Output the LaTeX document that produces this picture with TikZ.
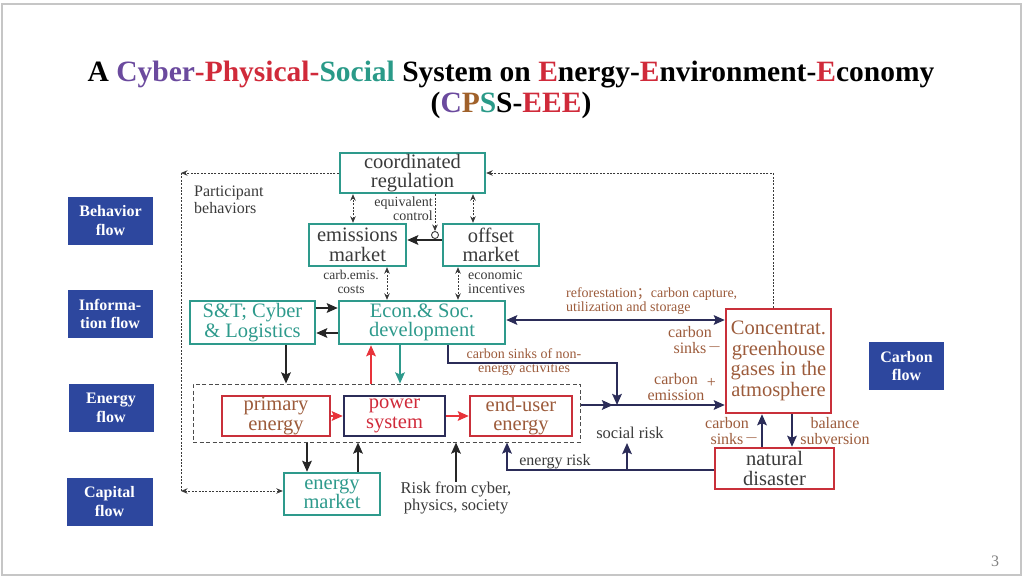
\documentclass[tikz,border=0pt]{standalone}
\usepackage{fontspec}
\setmainfont{Liberation Serif}
\newfontfamily\cjk{Noto Sans CJK SC}
\usetikzlibrary{arrows.meta,calc}
\definecolor{teal1}{HTML}{2E9A8C}
\definecolor{redb}{HTML}{C9303A}
\definecolor{navy1}{HTML}{2B2C58}
\definecolor{brown1}{HTML}{9C5B3B}
\definecolor{dgray}{HTML}{3A3A3A}
\definecolor{lblue}{HTML}{2D479E}
\definecolor{purp}{HTML}{6B4A9E}
\definecolor{tred}{HTML}{D02A3A}
\definecolor{tteal}{HTML}{2A9A88}
\definecolor{tbrown}{HTML}{A0612A}
\definecolor{arred}{HTML}{E8333A}
\begin{document}
\begin{tikzpicture}[x=1pt,y=-1pt,
  >={Stealth[length=11pt,width=9.5pt,inset=2pt]},
  box/.style={draw, line width=2.4pt, rectangle, inner sep=0pt, align=center, font=\fontsize{20.5}{19.5}\selectfont},
  tealbox/.style={box, draw=teal1},
  redbox/.style={box, draw=redb},
  navybox/.style={box, draw=navy1},
  legend/.style={fill=lblue, text=white, inner sep=0pt, align=center, font=\fontsize{16}{18.5}\selectfont\bfseries},
  lbl/.style={inner sep=0pt, align=center},
  fine/.style={draw=dgray, line width=0.9pt, dash pattern=on 2pt off 1.4pt},
  fa/.style={>={Stealth[length=6.5pt,width=5.5pt]}},
  blkarr/.style={draw=black!85, line width=2.6pt, ->},
  navyarr/.style={draw=navy1, line width=2.6pt},
  redarr/.style={draw=arred, line width=2.6pt, ->},
  tealarr/.style={draw=teal1, line width=2.6pt, ->}
]
\useasboundingbox (0,0) rectangle (1024,578);
\draw[draw=gray!45, line width=1.5pt] (2,4) rectangle (1021,575);

% title
\node[lbl, font=\fontsize{29.5}{30}\selectfont\bfseries] (title1) at (511,75) {A \textcolor{purp}{Cyber}\textcolor{tred}{-Physical-}\textcolor{tteal}{Social} System on \textcolor{tred}{E}nergy-\textcolor{tred}{E}nvironment-\textcolor{tred}{E}conomy};
\node[lbl, font=\fontsize{29.5}{30}\selectfont\bfseries] (title2) at (511,105) {(\textcolor{purp}{C}\textcolor{tbrown}{P}\textcolor{tteal}{S}S-\textcolor{tred}{EEE})};

% legend
\node[legend, minimum width=85pt, minimum height=48pt] (lb) at (110.5,220.5) {Behavior\\flow};
\node[legend, minimum width=85pt, minimum height=48pt] (li) at (110,314) {Informa-\\tion flow};
\node[legend, minimum width=85pt, minimum height=48pt] (le) at (111,408) {Energy\\flow};
\node[legend, minimum width=86pt, minimum height=48pt] (lc) at (109.5,501.5) {Capital\\flow};
\node[legend, minimum width=75pt, minimum height=48pt] (lk) at (906.5,366) {Carbon\\flow};

% boxes
\node[tealbox, text=dgray, minimum width=145pt, minimum height=40pt] (coord) at (412.5,173) {coordinated\\regulation};
\node[tealbox, text=dgray, minimum width=97pt, minimum height=42pt] (emis) at (357.5,245) {emissions\\market};
\node[tealbox, text=dgray, minimum width=96pt, minimum height=42pt] (offs) at (491,245) {offset\\market};
\node[tealbox, text=teal1, minimum width=125pt, minimum height=43pt] (st) at (252.5,322.5) {S\&T; Cyber\\\& Logistics};
\node[tealbox, text=teal1, minimum width=166pt, minimum height=43pt] (econ) at (422,322.5) {Econ.\& Soc.\\development};
\node[draw=gray!60!black, dash pattern=on 4pt off 2.5pt, line width=1pt, minimum width=387pt, minimum height=58pt, inner sep=0pt] (efr) at (386.5,413) {};
\node[redbox, text=brown1, minimum width=108pt, minimum height=40pt] (prim) at (276,416) {primary\\energy};
\node[navybox, text=tred, minimum width=101pt, minimum height=40pt] (pow) at (394.5,416) {power\\system};
\node[redbox, text=brown1, minimum width=102pt, minimum height=40pt] (endu) at (521,416) {end-user\\energy};
\node[tealbox, text=teal1, minimum width=96pt, minimum height=42pt] (emkt) at (332,494) {energy\\market};
\node[redbox, text=brown1, minimum width=105pt, minimum height=104pt, font=\fontsize{20.5}{20.5}\selectfont] (conc) at (778.5,361) {Concentrat.\\greenhouse\\gases in the\\atmosphere};
\node[redbox, text=dgray, minimum width=119pt, minimum height=41pt] (nat) at (774.5,468.5) {natural\\disaster};

% labels
\node[lbl, anchor=west, align=left, text=dgray, font=\fontsize{16}{16.5}\selectfont] (pb) at (194,200) {Participant\\behaviors};
\node[lbl, anchor=east, align=right, text=dgray, font=\fontsize{14}{14}\selectfont] (eqc) at (433,209) {equivalent\\control};
\node[lbl, text=dgray, font=\fontsize{13.5}{14}\selectfont] (cec) at (351,282) {carb.emis.\\costs};
\node[lbl, anchor=west, align=left, text=dgray, font=\fontsize{14}{14}\selectfont] (ei) at (468,282) {economic\\incentives};
\node[lbl, anchor=west, align=left, text=brown1, font=\fontsize{14}{13.5}\selectfont] (refo) at (566,301) {reforestation{\cjk ；}carbon capture,\\utilization and storage};
\node[lbl, text=brown1, font=\fontsize{16}{16}\selectfont] (cs1) at (690,340) {carbon\\sinks\rlap{\hspace{1.5pt}\raisebox{1.5pt}{$-$}}};
\node[lbl, text=brown1, font=\fontsize{14}{14}\selectfont] (csn) at (524,362) {carbon sinks of non-\\energy activities};
\node[lbl, text=brown1, font=\fontsize{16}{16}\selectfont] (ce) at (676,387) {carbon\rlap{\hspace{9pt}\raisebox{-3pt}{+}}\\emission};
\node[lbl, text=dgray, font=\fontsize{16.5}{16.5}\selectfont] (sr) at (630,433) {social risk};
\node[lbl, text=dgray, font=\fontsize{16}{16}\selectfont] (erk) at (555,462) {energy risk};
\node[lbl, text=brown1, font=\fontsize{16}{16}\selectfont] (cs2) at (727,431) {carbon\\sinks\rlap{\hspace{1.5pt}\raisebox{1.5pt}{$-$}}};
\node[lbl, text=brown1, font=\fontsize{16}{16}\selectfont] (bs) at (835,431) {balance\\subversion};
\node[lbl, text=dgray, font=\fontsize{16.5}{16.5}\selectfont] (risk) at (456,498) {Risk from cyber,\\physics, society};
\node[lbl, text=gray, font=\fontsize{16}{16}\selectfont] (pg) at (995,561) {3};

% fine dashed connectors
\coordinate (tl) at (181,173);
\coordinate (bl) at (181,491);
\draw[fine, fa, ->] (coord.west) -- (tl);
\draw[fine] (tl) -- (bl);
\draw[fine, fa, <->] (bl) -- (bl -| emkt.west);
\coordinate (tr) at (773,173);
\draw[fine, fa, ->] ([xshift=-5.5pt]conc.north) -- (tr) -- (coord.east);
\draw[fine, fa, <->] ([xshift=-4.5pt]emis.north) -- ([xshift=-4.5pt]emis.north |- coord.south);
\draw[fine, fa, <->] ([xshift=-18pt]offs.north) -- ([xshift=-18pt]offs.north |- coord.south);
\draw[blkarr] ([yshift=5pt]offs.west) -- ([yshift=5pt]offs.west -| emis.east);
\node[draw=dgray, line width=0.9pt, circle, inner sep=0pt, minimum size=7pt, fill=white] (circ) at (435,235) {};
\draw[fine, fa, ->] (circ.north |- coord.south) -- (circ.north);
\draw[fine, fa, <->] ([xshift=29.5pt]emis.south) -- ([xshift=29.5pt]emis.south |- econ.north);
\draw[fine, fa, <->] ([xshift=-33pt]offs.south) -- ([xshift=-33pt]offs.south |- econ.north);

% information / energy arrows
\draw[blkarr] ([yshift=14.5pt]st.east) -- ([yshift=14.5pt]st.east -| econ.west);
\draw[blkarr] ([yshift=-10.5pt]econ.west) -- ([yshift=-10.5pt]econ.west -| st.east);
\draw[blkarr] ([xshift=33.5pt]st.south) -- ([xshift=33.5pt]st.south |- efr.north);
\draw[redarr] ([xshift=-51pt]econ.south |- efr.north) -- ([xshift=-51pt]econ.south);
\draw[tealarr] ([xshift=-22pt]econ.south) -- ([xshift=-22pt]econ.south |- efr.north);
\draw[redarr] (prim) -- (pow);
\draw[redarr] (pow) -- (endu);

% carbon flow
\draw[navyarr, <->] ([yshift=2.5pt]econ.east) -- ([yshift=2.5pt]econ.east -| conc.west);
\coordinate (j) at (617,405);
\coordinate (jt) at (617,363);
\draw[navyarr, ->] ([xshift=26pt]econ.south) |- (jt) -- (j);
\draw[navyarr, ->] (j -| efr.east) -- (j -| conc.west);
\draw[navyarr, ->] (j -| efr.east) -- ([xshift=-4pt]j);
\draw[navyarr, ->] ([xshift=-12.5pt]nat.north) -- ([xshift=-12.5pt]nat.north |- conc.south);
\draw[navyarr, ->] ([xshift=13.5pt]conc.south) -- ([xshift=13.5pt]conc.south |- nat.north);

% risk / capital
\draw[blkarr] ([xshift=-25pt]emkt.north |- efr.south) -- ([xshift=-25pt]emkt.north);
\draw[blkarr] ([xshift=26pt]emkt.north) -- ([xshift=26pt]emkt.north |- efr.south);
\draw[blkarr] (risk.north) -- (risk.north |- efr.south);
\coordinate (er) at (507,470);
\draw[navyarr, ->] ([yshift=-1.5pt]nat.west) -- (er) -- (er |- efr.south);
\coordinate (sro) at (627,470);
\draw[navyarr, ->, shorten >=4pt] (sro) -- (sro |- sr.south);
\end{tikzpicture}
\end{document}
